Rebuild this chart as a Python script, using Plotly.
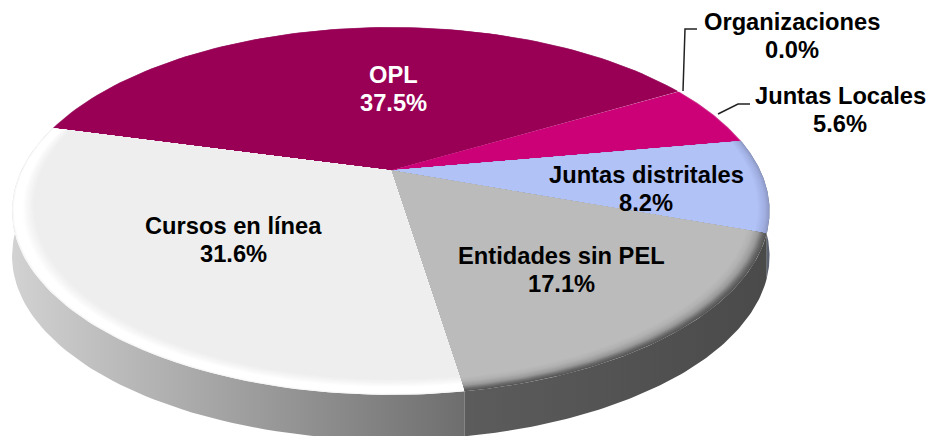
import numpy as np
import plotly.graph_objects as go

categories = ["OPL", "Organizaciones", "Juntas Locales", "Juntas distritales", "Entidades sin PEL", "Cursos en línea"]
shares = [37.5, 0.0, 5.6, 8.2, 17.1, 31.6]
share_labels = ["37.5%", "0.0%", "5.6%", "8.2%", "17.1%", "31.6%"]

# --- style and geometry -------------------------------------------------
W, H = 932, 436
CX, CY = 390.8, 170.5      # apex of the pie on the page
SX, SY, P = 369.5, 175, 0.22   # perspective of the pie plane
DEPTH = 45
FIRST_ANGLE = -75.2
FONT = "Liberation Sans"
FS = 23.7
LINE_GAP = 28

# radial bevel profile per slice: (radius, colour), outer edge first
BEVEL = {
    "OPL": [(1.0, "#B06090"), (0.997, "#990055")],
    "Organizaciones": [(1.0, "#990055")],
    "Juntas Locales": [(1.0, "#D060A0"), (0.996, "#CC0077")],
    "Juntas distritales": [(1.0, "#8E9BC8"), (0.99, "#A0AEE0"), (0.97, "#B1C2F7")],
    "Entidades sin PEL": [(1.0, "#555555"), (0.992, "#6A6A6A"), (0.98, "#9A9A9A"), (0.965, "#B2B2B2"), (0.95, "#BBBBBB")],
    "Cursos en línea": [(1.0, "#F4F4F4"), (0.995, "#FFFFFF"), (0.975, "#FFFFFF"), (0.96, "#F6F6F6"), (0.945, "#EEEEEE")],
}
WALL = {
    "Juntas distritales": ("#8A8FA8", "#5A5F70"),
    "Entidades sin PEL": ("#5C5C5C", "#4A4A4A"),
    "Cursos en línea": ("#6E6E6E", "#D2D2D2"),
}
# centre of each two-line label on the page
LABEL_PX = {
    "OPL": (393, 89),
    "Organizaciones": (792, 36),
    "Juntas Locales": (840, 110),
    "Juntas distritales": (646, 189),
    "Entidades sin PEL": (561, 270),
    "Cursos en línea": (233, 240),
}
LABEL_COLOR = {"OPL": "#FFFFFF"}
LEADERS = {
    "Organizaciones": [(683, 91), (685, 29), (697, 29)],
    "Juntas Locales": [(718, 114), (738, 104), (750, 104)],
}


def project(theta_deg, r=1.0, drop=0.0):
    t = np.radians(np.asarray(theta_deg, dtype=float))
    u, v = r * np.sin(t), r * np.cos(t)
    w = 1 + P * v
    return CX + SX * u / w, CY - SY * v / w + drop


def blend(a, b, f):
    ca = [int(a[i:i + 2], 16) for i in (1, 3, 5)]
    cb = [int(b[i:i + 2], 16) for i in (1, 3, 5)]
    return "#%02X%02X%02X" % tuple(round(x + (y - x) * f) for x, y in zip(ca, cb))


def bands(profile, step=0.002):
    if len(profile) == 1:
        return profile
    out = []
    for (r0, c0), (r1, c1) in zip(profile, profile[1:]):
        n = max(1, int(round((r0 - r1) / step)))
        for i in range(n):
            f = i / n
            out.append((r0 + (r1 - r0) * f, blend(c0, c1, f)))
    out.append(profile[-1])
    return out


fig = go.Figure()
spans = np.array(shares) * 3.6
starts = FIRST_ANGLE + np.concatenate([[0], np.cumsum(spans)[:-1]])
ends = starts + spans


def poly(x, y, color=None, gradient=None):
    kw = dict(x=list(x), y=list(y), mode="lines", fill="toself", line=dict(width=0),
              hoverinfo="skip", showlegend=False)
    if gradient is not None:
        kw["fillgradient"] = gradient
    else:
        kw["fillcolor"] = color
    fig.add_trace(go.Scatter(**kw))


# side wall
for name, a0, a1 in zip(categories, starts, ends):
    if name not in WALL:
        continue
    th = np.linspace(a0, a1, 80)
    x0, y0 = project(th)
    x1, y1 = project(th, drop=DEPTH)
    xs = np.concatenate([x0, x1[::-1]])
    ys = np.concatenate([y0, y1[::-1]])
    c0, c1 = WALL[name]
    grad = dict(type="horizontal", start=float(xs.min()), stop=float(xs.max()),
                colorscale=[[0, c1 if name == "Cursos en línea" else c0],
                            [1, c0 if name == "Cursos en línea" else c1]])
    poly(xs, ys, gradient=grad)

# top face: painted from the rim inwards so the bevel shows as concentric bands
for name, a0, a1 in zip(categories, starts, ends):
    if a1 - a0 <= 0:
        continue
    th = np.linspace(a0, a1, 90)
    for r, col in bands(BEVEL[name]):
        x, y = project(th, r)
        poly(np.concatenate([[CX], x, [CX]]), np.concatenate([[CY], y, [CY]]), color=col)

# leader lines
for name, pts in LEADERS.items():
    fig.add_trace(go.Scatter(x=[p[0] for p in pts], y=[p[1] for p in pts], mode="lines",
                             line=dict(color="#222222", width=1.5), hoverinfo="skip", showlegend=False))

# labels: two separately placed lines, the reference's leading is tighter than Plotly's
for name, lab in zip(categories, share_labels):
    lx, ly = LABEL_PX[name]
    for text, dy in ((name, -LINE_GAP / 2), (lab, LINE_GAP / 2)):
        fig.add_annotation(x=lx, y=ly + dy, text=f"<b>{text}</b>", showarrow=False,
                           font=dict(family=FONT, size=FS, color=LABEL_COLOR.get(name, "#000000")),
                           align="center", xanchor="center", yanchor="middle")

fig.update_layout(
    width=W, height=H, margin=dict(l=0, r=0, t=0, b=0),
    paper_bgcolor="#FFFFFF", plot_bgcolor="#FFFFFF", showlegend=False,
    xaxis=dict(range=[0, W], visible=False, fixedrange=True),
    yaxis=dict(range=[H, 0], visible=False, fixedrange=True),
)
fig.write_html("out.html", config={"displayModeBar": False},
               post_script="document.body.style.margin='0';document.body.style.overflow='hidden';")
